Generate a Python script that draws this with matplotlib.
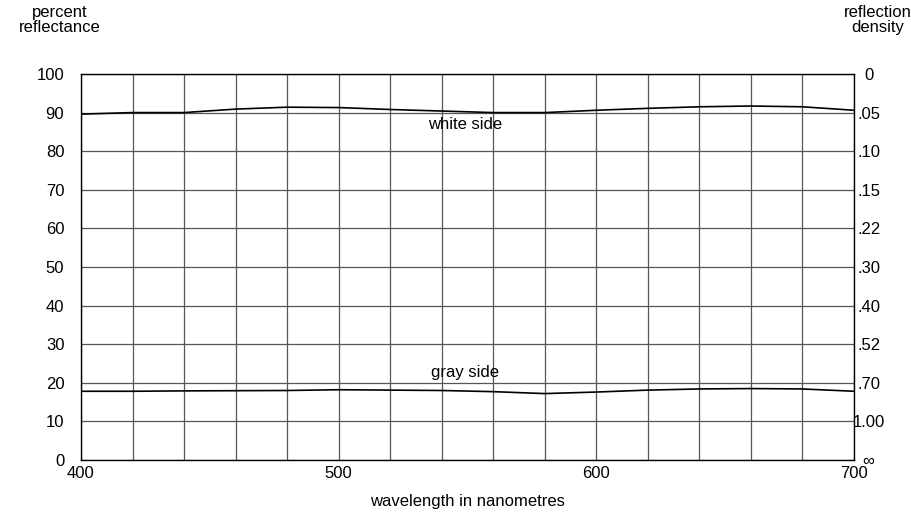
import matplotlib
matplotlib.use("Agg")
import matplotlib.pyplot as plt

wavelength = [400, 420, 440, 460, 480, 500, 520, 540, 560, 580, 600, 620, 640, 660, 680, 700]
white_side = [89.6, 90.0, 90.0, 90.9, 91.4, 91.3, 90.8, 90.4, 90.0, 90.0, 90.6, 91.1, 91.5, 91.7, 91.5, 90.6]
gray_side = [17.8, 17.8, 17.9, 17.95, 18.0, 18.2, 18.1, 18.0, 17.7, 17.2, 17.6, 18.1, 18.4, 18.5, 18.4, 17.8]

y_ticks = [0, 10, 20, 30, 40, 50, 60, 70, 80, 90, 100]
density_labels = ["∞", "1.00", ".70", ".52", ".40", ".30", ".22", ".15", ".10", ".05", "0"]
x_major = [400, 500, 600, 700]
x_grid = list(range(400, 701, 20))

plt.rcParams['font.family'] = ['Liberation Sans', 'DejaVu Sans']

fig = plt.figure(figsize=(9.11, 5.17), dpi=100)
ax = fig.add_axes([0.0889, 0.1103, 0.8485, 0.7466])

for x in x_grid:
    ax.axvline(x, color="#555555", lw=0.9, zorder=1)
for y in y_ticks:
    ax.axhline(y, color="#555555", lw=0.9, zorder=1)

ax.plot(wavelength, white_side, color="black", lw=1.2, zorder=3)
ax.plot(wavelength, gray_side, color="black", lw=1.2, zorder=3)

ax.set_xlim(400, 700)
ax.set_ylim(0, 100)
ax.set_xticks(x_major)
ax.set_yticks(y_ticks)
ax.tick_params(axis="x", length=0, labelsize=12, pad=4)
ax.tick_params(axis="y", length=0, labelsize=12, pad=12)
for s in ax.spines.values():
    s.set_color("black")
    s.set_linewidth(1.0)

ytrans = ax.get_yaxis_transform()
for y, lab in zip(y_ticks, density_labels):
    ax.text(1.019, y, lab, transform=ytrans, ha="center", va="center_baseline",
            fontsize=12, clip_on=False)

ax.text(549, 87.0, "white side", ha="center", va="center", fontsize=12)
ax.text(549, 22.6, "gray side", ha="center", va="center", fontsize=12)

ax.set_xlabel("wavelength in nanometres", fontsize=12, labelpad=10)
fig.text(60 / 911, 1 - 20 / 517, "percent\nreflectance", ha="center", va="center", fontsize=12, linespacing=1.0)
fig.text(878 / 911, 1 - 20 / 517, "reflection\ndensity", ha="center", va="center", fontsize=12, linespacing=1.0)

fig.savefig("out.png", dpi=100)
